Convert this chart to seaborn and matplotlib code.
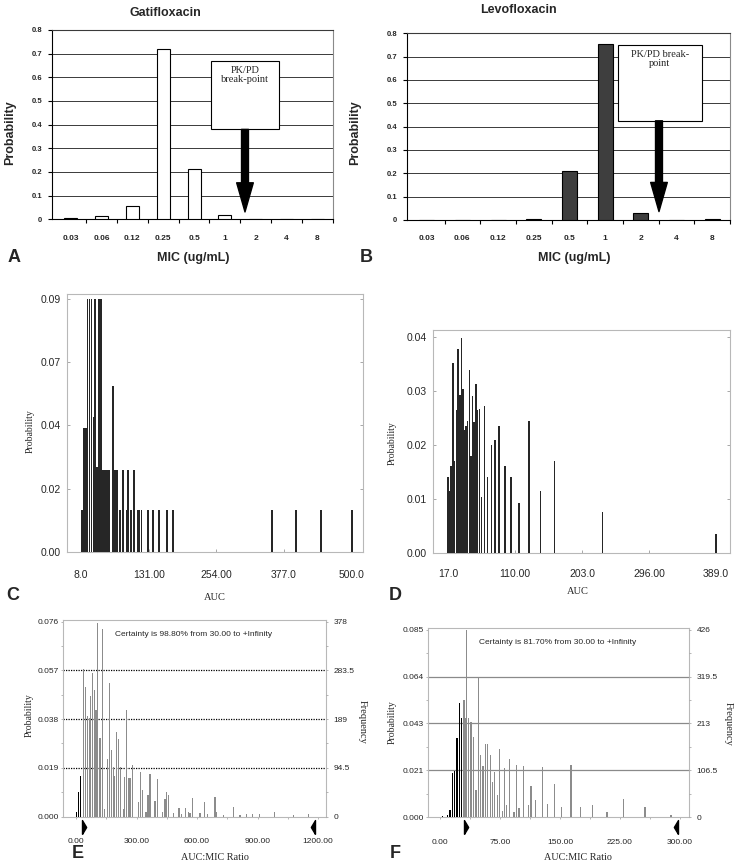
import numpy as np
import matplotlib
matplotlib.use("Agg")
import matplotlib.pyplot as plt
import seaborn as sns
from matplotlib.patches import Rectangle

# ---------------- data ----------------
MIC_LABELS = ["0.03", "0.06", "0.12", "0.25", "0.5", "1", "2", "4", "8"]
GATI_PROB = [0.007, 0.013, 0.058, 0.72, 0.213, 0.017, 0.0, 0.0, 0.0]
LEVO_PROB = [0.0, 0.002, 0.0, 0.004, 0.212, 0.755, 0.03, 0.0, 0.005]

C_AUC = [9.5, 13, 16.5, 20, 23.5, 27, 30.5, 34, 37.5, 41, 44.5, 48, 51.5, 55, 58.5,
         65.8, 69.5, 74, 78.9, 83.7, 91, 94, 98.3, 104.3, 111, 114.5, 118, 130.4,
         139.4, 149.8, 163.7, 174.6, 355, 399, 444, 500]
C_PROB = [0.015, 0.044, 0.044, 0.09, 0.09, 0.09, 0.048, 0.09, 0.03, 0.09, 0.09,
          0.029, 0.029, 0.029, 0.029, 0.059, 0.029, 0.029, 0.015, 0.029, 0.015,
          0.029, 0.015, 0.029, 0.015, 0.015, 0.015, 0.015, 0.015, 0.015, 0.015,
          0.015, 0.015, 0.015, 0.015, 0.015]

D_AUC = [17, 18.4, 21.2, 24, 26.3, 28.6, 30.9, 33.7, 36, 37.8, 39.6, 42, 44.3, 46.6,
         48.9, 51.2, 53.5, 55.9, 58.2, 60.5, 63.8, 67.4, 72.1, 77.6, 82.2, 88.2,
         96.1, 104.4, 115.6, 129.4, 145.2, 165.1, 231.7, 388.6]
D_PROB = [0.0141, 0.0114, 0.0162, 0.0351, 0.0171, 0.0265, 0.0378, 0.0293, 0.0398,
          0.0304, 0.0228, 0.0236, 0.0245, 0.0339, 0.018, 0.0291, 0.0242, 0.0313,
          0.0265, 0.0266, 0.0104, 0.0273, 0.0141, 0.02, 0.0209, 0.0236, 0.0162,
          0.0141, 0.0093, 0.0245, 0.0114, 0.017, 0.0076, 0.0035]

E_RATIO = [2, 11, 21, 36, 46, 58, 66, 73, 83, 91, 99, 107, 119, 131, 141, 155, 167,
           177, 185, 192, 202, 212, 222, 235, 241, 251, 260, 268, 281, 309, 319, 331,
           347, 357, 367, 392, 403, 427, 441, 450, 458, 483, 511, 524, 544, 557, 565,
           578, 615, 639, 651, 689, 697, 730, 780, 813, 846, 876, 909, 983, 1078, 1152]
E_PROB = [0.0016, 0.0097, 0.0158, 0.0574, 0.0504, 0.0392, 0.0383, 0.047, 0.0559,
          0.0494, 0.0416, 0.0756, 0.0308, 0.073, 0.0029, 0.0223, 0.0522, 0.026,
          0.0195, 0.0158, 0.0331, 0.0301, 0.0195, 0.0029, 0.0156, 0.0416, 0.0149,
          0.0149, 0.0201, 0.0058, 0.0173, 0.0104, 0.0016, 0.0084, 0.0166, 0.0061,
          0.0145, 0.0019, 0.0068, 0.0094, 0.0084, 0.0013, 0.0034, 0.001, 0.0035,
          0.0017, 0.0013, 0.0071, 0.0013, 0.0055, 0.0008, 0.0078, 0.0018, 0.0007,
          0.0039, 0.0007, 0.0008, 0.0008, 0.0009, 0.0016, 0.0005, 0.001]

F_RATIO = [3, 9.6, 12.5, 15.4, 17.9, 21.3, 24.1, 27.1, 30.2, 31.7, 33.2, 35.8, 38.75,
           42, 45, 47.9, 50.8, 53.75, 56.7, 59.6, 62.9, 65.8, 68.3, 71.7, 74.7, 77.9,
           80.8, 83.3, 86.7, 92.5, 95.8, 98.75, 104.6, 110.4, 113.75, 119.2, 127.9,
           134.2, 142.9, 152, 163.75, 175.8, 190.8, 208.75, 229.6, 256.25, 288.75]
F_PROB = [0.0005, 0.001, 0.003, 0.020, 0.021, 0.0357, 0.0516, 0.0452, 0.053, 0.0448,
          0.085, 0.045, 0.0433, 0.0364, 0.0121, 0.0638, 0.028, 0.0232, 0.0334, 0.0334,
          0.0284, 0.0159, 0.0205, 0.0102, 0.0307, 0.0026, 0.0223, 0.0053, 0.0263,
          0.0023, 0.0238, 0.0041, 0.0232, 0.0053, 0.0141, 0.0076, 0.0228, 0.0061,
          0.0152, 0.0046, 0.0238, 0.0046, 0.0053, 0.0023, 0.0083, 0.0046, 0.0011]

CUTOFF = 30.0
E_TEXT = "Certainty is 98.80% from 30.00 to +Infinity"
F_TEXT = "Certainty is 81.70% from 30.00 to +Infinity"

# ---------------- setup ----------------
sns.set_theme(style="white")
plt.rcParams['font.family'] = ['Liberation Sans', 'DejaVu Sans']
SERIF = ['Liberation Serif', 'DejaVu Serif']
SANS = ['Liberation Sans', 'DejaVu Sans']

W, H = 734, 864
DPI = 100
fig = plt.figure(figsize=(W / DPI, H / DPI), dpi=DPI)
fig.patch.set_facecolor('white')


def add_ax(l, t, r, b):
    return fig.add_axes([l / W, 1 - b / H, (r - l) / W, (b - t) / H])


def ftext(x, y, s, **kw):
    kw.setdefault('ha', 'center')
    kw.setdefault('va', 'center')
    fig.text(x / W, 1 - y / H, s, **kw)


def mic_panel(ax, vals, color, xleft, box, box_text, arrow_x, tip, text_top):
    ax.set_facecolor('white')
    yt = np.round(np.arange(0, 0.81, 0.1), 1)
    for v in yt[1:]:
        ax.axhline(v, color='#3a3a3a', lw=0.7, zorder=0.5)
    sns.barplot(x=MIC_LABELS, y=vals, order=MIC_LABELS, color=color,
                edgecolor='black', linewidth=0.8, width=0.42, saturation=1, ax=ax)
    for p in list(ax.patches):
        p.set_zorder(4)
        p.set_facecolor(color)
        p.set_alpha(1.0)
        p.set_fill(True)
    ax.set_xlabel('')
    ax.set_ylabel('')
    ax.set_ylim(0, 0.8)
    ax.set_xlim(xleft, 8.5)
    ax.set_yticks(yt)
    ax.set_yticklabels(['0'] + [f"{v:.1f}" for v in yt[1:]],
                       fontsize=5.5, fontweight='bold', family=SANS)
    ax.set_xticks(range(9))
    ax.set_xticklabels(MIC_LABELS, fontsize=6, fontweight='bold', family=SANS)
    ax.set_xticks(np.arange(0.5, 9, 1), minor=True)
    ax.tick_params(axis='x', which='major', length=0, pad=11)
    ax.tick_params(axis='x', which='minor', length=3, width=0.8, color='black',
                   direction='out', bottom=True)
    ax.tick_params(axis='y', which='major', length=3, width=0.8, color='black',
                   direction='out', left=True, pad=4)
    ax.spines['left'].set_color('black')
    ax.spines['bottom'].set_color('black')
    ax.spines['right'].set_color('#8a8a8a')
    ax.spines['top'].set_color('#3a3a3a')
    for s in ax.spines.values():
        s.set_linewidth(0.8)
    x0, y0, x1, y1 = box
    ax.add_patch(Rectangle((x0, y0), x1 - x0, y1 - y0, fc='white', ec='black',
                           lw=0.8, zorder=5))
    ax.text((x0 + x1) / 2, text_top, box_text, ha='center', va='top',
            family=SERIF, fontsize=7.5, linespacing=1.0, zorder=6)
    ax.annotate('', xy=(arrow_x, tip), xytext=(arrow_x, y0),
                arrowprops=dict(arrowstyle='simple,head_length=1.05,head_width=0.6,tail_width=0.25',
                                mutation_scale=20, fc='black', ec='black',
                                shrinkA=0, shrinkB=0), zorder=7)


# ---------------- Panel A ----------------
axA = add_ax(52, 30, 333, 219.3)
mic_panel(axA, GATI_PROB, 'white', -0.6, (4.54, 0.380, 6.76, 0.670),
          "PK/PD\nbreak-point", 5.65, 0.031, 0.648)

# ---------------- Panel B ----------------
axB = add_ax(406.7, 33.3, 730, 220)
mic_panel(axB, LEVO_PROB, '#3e3e3e', -0.56, (5.35, 0.425, 7.72, 0.75),
          "PK/PD break-\npoint", 6.51, 0.036, 0.73)

ftext(165, 13, "Gatifloxacin", fontsize=9, fontweight='bold')
ftext(518, 10, "Levofloxacin", fontsize=9, fontweight='bold')
ftext(10, 133, "Probability", fontsize=9, fontweight='bold', rotation=90)
ftext(355, 133, "Probability", fontsize=9, fontweight='bold', rotation=90)
ftext(193, 258, "MIC (ug/mL)", fontsize=9, fontweight='bold')
ftext(574, 258, "MIC (ug/mL)", fontsize=9, fontweight='bold')


# ---------------- Panels C, D ----------------
def auc_panel(ax, xs, ps, width, xlim, ylim, xt, xtl, yt, ytl, xpad):
    ax.bar(xs, ps, width=width, color='#262626', linewidth=0, zorder=3)
    ax.set_xlim(*xlim)
    ax.set_ylim(*ylim)
    ax.set_xticks(xt)
    ax.set_xticklabels(xtl, fontsize=7.5, family=SANS)
    ax.set_yticks(yt)
    ax.set_yticklabels(ytl, fontsize=7.5, family=SANS)
    ax.tick_params(axis='both', direction='in', length=2.5, width=0.6,
                   color='#9a9a9a', left=True, bottom=True, right=True)
    ax.tick_params(axis='x', pad=xpad)
    ax.tick_params(axis='y', pad=4.5)
    for s in ax.spines.values():
        s.set_color('#b8b8b8')
        s.set_linewidth(0.8)
    ax.set_facecolor('white')


axC = add_ax(66.7, 294, 363.3, 551.7)
auc_panel(axC, C_AUC, C_PROB, 3.2, (-18, 521), (0, 0.0918),
          [8, 131, 254, 377, 500], ["8.0", "131.00", "254.00", "377.0", "500.0"],
          [0, 0.0225, 0.045, 0.0675, 0.09], ["0.00", "0.02", "0.04", "0.07", "0.09"], 13)

axD = add_ax(433, 330, 730, 553)
auc_panel(axD, D_AUC, D_PROB, 2.2, (-3.8, 408.4), (0, 0.0413),
          [17, 110, 203, 296, 389], ["17.0", "110.00", "203.0", "296.00", "389.0"],
          [0, 0.01, 0.02, 0.03, 0.04], ["0.00", "0.01", "0.02", "0.03", "0.04"], 11.5)

ftext(30, 431, "Probability", fontsize=7, family=SERIF, rotation=90)
ftext(392, 443, "Probability", fontsize=7, family=SERIF, rotation=90)
ftext(215, 598, "AUC", fontsize=7.5, family=SERIF)
ftext(578, 592, "AUC", fontsize=7.5, family=SERIF)


# ---------------- Panels E, F ----------------
RIGHT_TRI = [(0, -1), (0.6, 0), (0, 1), (0, -1)]
LEFT_TRI = [(0, -1), (-0.6, 0), (0, 1), (0, -1)]


def ratio_panel(ax, xs, ps, width, xlim, ytop, pmax, fmax, yl, xt, xtl, minor_step,
                grid_style, grid_color, tri_x, tri_y, text, text_xy, pix_h):
    cols = ['black' if x < CUTOFF else '#8c8c8c' for x in xs]
    ax.bar(xs, ps, width=width, color=cols, linewidth=0, zorder=3)
    ax.set_xlim(*xlim)
    ax.set_ylim(0, ytop)
    yt = [pmax * k / 4 for k in range(5)]
    for v in yt[1:4]:
        ax.axhline(v, color=grid_color, lw=0.9, ls=grid_style, zorder=1)
    ax.set_yticks(yt)
    ax.set_yticklabels(yl, fontsize=6, family=SANS)
    ax.set_yticks([pmax * k / 8 for k in range(9)], minor=True)
    ax.set_xticks(xt)
    ax.set_xticklabels(xtl, fontsize=6, family=SANS)
    ax.set_xticks(np.arange(0, xlim[1], minor_step), minor=True)
    ax.tick_params(axis='both', which='both', direction='out', length=1.5, width=0.5,
                   color='#9a9a9a', left=True, bottom=True)
    ax.tick_params(axis='x', which='major', pad=14)
    ax.tick_params(axis='y', which='major', pad=1.5)
    for s in ax.spines.values():
        s.set_color('#b8b8b8')
        s.set_linewidth(0.8)
    ax.set_facecolor('white')
    ax2 = ax.twinx()
    ax2.set_ylim(0, fmax * ytop / pmax)
    ft = [fmax * k / 4 for k in range(5)]
    ax2.set_yticks(ft)
    ax2.set_yticklabels([f"{v:g}" for v in ft], fontsize=6, family=SANS)
    ax2.set_yticks([fmax * k / 8 for k in range(9)], minor=True)
    ax2.tick_params(axis='y', which='both', direction='out', length=1.5, width=0.5,
                    color='#9a9a9a', right=True, pad=4)
    for s in ax2.spines.values():
        s.set_visible(False)
    ax2.grid(False)
    tr = ax.get_xaxis_transform()
    yfrac = -tri_y / pix_h
    ax.plot([tri_x[0]], [yfrac], marker=RIGHT_TRI, ms=10, color='black',
            transform=tr, clip_on=False, ls='none')
    ax.plot([tri_x[1]], [yfrac], marker=LEFT_TRI, ms=10, color='black',
            transform=tr, clip_on=False, ls='none')
    ftext(text_xy[0], text_xy[1], text, fontsize=6, family=SANS)


axE = add_ax(63, 620, 326, 816.5)
ratio_panel(axE, E_RATIO, E_PROB, 6, (-64.5, 1239.5), 0.07666, 0.076, 378,
            ["0.000", "0.019", "0.038", "0.057", "0.076"],
            [0, 300, 600, 900, 1200], ["0.00", "300.00", "600.00", "900.00", "1200.00"],
            150, (0, (1, 1)), 'black', (30, 1185), 10.2, E_TEXT, (194, 635), 196.5)

axF = add_ax(428, 628, 689, 817)
ratio_panel(axF, F_RATIO, F_PROB, 1.7, (-15, 311.25), 0.0859, 0.085, 426,
            ["0.000", "0.021", "0.043", "0.064", "0.085"],
            [0, 75, 150, 225, 300], ["0.00", "75.00", "150.00", "225.00", "300.00"],
            37.5, '-', '#8a8a8a', (30, 297), 9.5, F_TEXT, (558, 642), 189)

ftext(29, 715, "Probability", fontsize=7, family=SERIF, rotation=90)
ftext(392, 722, "Probability", fontsize=7, family=SERIF, rotation=90)
ftext(362, 722, "Frequency", fontsize=7.5, family=SERIF, rotation=270)
ftext(728, 724, "Frequency", fontsize=7.5, family=SERIF, rotation=270)
ftext(215, 857, "AUC:MIC Ratio", fontsize=7.3, family=SERIF)
ftext(578, 857, "AUC:MIC Ratio", fontsize=7.3, family=SERIF)

# panel letters
for letter, (x, y) in {"A": (14, 257), "B": (366, 258), "C": (13, 595),
                       "D": (395, 595), "E": (78, 853), "F": (395, 853)}.items():
    ftext(x, y, letter, fontsize=13, fontweight='bold', family=SANS)

fig.savefig("out.png", dpi=DPI)
